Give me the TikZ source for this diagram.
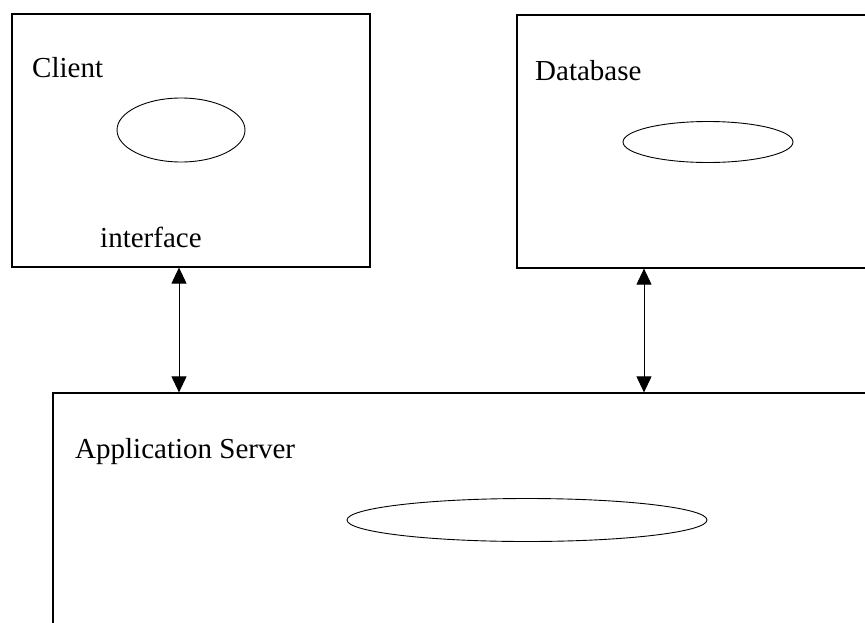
\documentclass[tikz,border=0pt]{standalone}
\usepackage{fontspec}
\setmainfont{Liberation Serif}
\usetikzlibrary{shapes.geometric,arrows.meta}

\tikzset{
	box/.style = {draw, line width=1.2pt, inner sep=0pt},
	oval/.style = {draw, ellipse, line width=0.9pt, inner sep=0pt},
	label/.style = {anchor=base west, inner sep=0pt, font=\fontsize{29}{34}\selectfont},
	link/.style = {line width=0.9pt, {Triangle[length=16pt,width=15pt]}-{Triangle[length=16pt,width=15pt]}}
}

\begin{document}
\begin{tikzpicture}[x=1pt, y=-1pt]
\useasboundingbox (0,0) rectangle (865,622);
\clip (0,0) rectangle (865,622);
\node (client) [box, minimum width=358pt, minimum height=253pt] at (191,140.5) {};
\node (db) [box, minimum width=383pt, minimum height=253pt] at (708.5,141.5) {};
\node (server) [box, minimum width=847pt, minimum height=257pt] at (476.5,521.5) {};

\node (client-o) [oval, minimum width=128pt, minimum height=64pt] at (181,130) {};
\node (db-o) [oval, minimum width=170pt, minimum height=41pt] at (708,142) {};
\node (server-o) [oval, minimum width=360pt, minimum height=43pt] at (527,520) {};

\node (client-t) [label] at (32,77) {Client};
\node (iface-t) [label] at (100,247) {interface};
\node (db-t) [label] at (535,80) {Database};
\node (server-t) [label] at (75,458) {Application Server};

\coordinate (cline) at (179,0);
\coordinate (dline) at (644,0);
\draw[link] (client.south -| cline) -- (server.north -| cline);
\draw[link] (db.south -| dline) -- (server.north -| dline);
\end{tikzpicture}
\end{document}
